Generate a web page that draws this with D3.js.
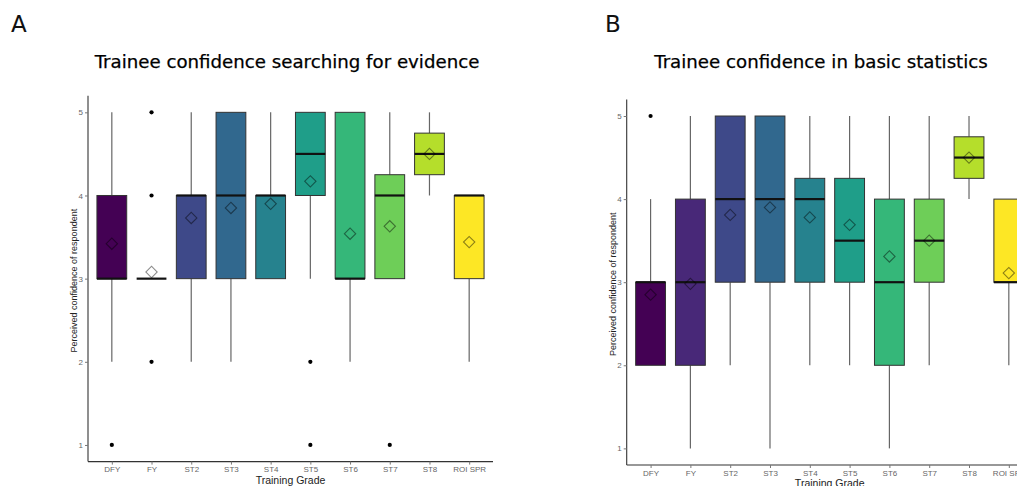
<!DOCTYPE html>
<html>
<head>
<meta charset="utf-8">
<script src="https://cdn.jsdelivr.net/npm/d3@7"></script>
<style>
  body { margin: 0; background: #fff; }
  svg { display: block; }
</style>
</head>
<body>
<div id="chart"></div>
<script>
const grades = ["DFY", "FY", "ST2", "ST3", "ST4", "ST5", "ST6", "ST7", "ST8", "ROI SPR"]
const yTicks = [1, 2, 3, 4, 5]

// A: searching for evidence
const searchQ1 = [3, 3, 3, 3, 3, 4, 3, 3, 4.25, 3]
const searchMedian = [3, 3, 4, 4, 4, 4.5, 3, 4, 4.5, 4]
const searchQ3 = [4, 3, 4, 5, 4, 5, 5, 4.25, 4.75, 4]
const searchLow = [2, 3, 2, 2, 3, 3, 2, 3, 4, 2]
const searchHigh = [5, 3, 5, 5, 5, 5, 5, 5, 5, 4]
const searchMean = [3.42, 3.08, 3.73, 3.85, 3.90, 4.17, 3.54, 3.63, 4.5, 3.44]
const searchOutliers = [[1], [5, 4, 2], [], [], [], [2, 1], [], [1], [], []]

// B: basic statistics
const statsQ1 = [2, 2, 3, 3, 3, 3, 2, 3, 4.25, 3]
const statsMedian = [3, 3, 4, 4, 4, 3.5, 3, 3.5, 4.5, 3]
const statsQ3 = [3, 4, 5, 5, 4.25, 4.25, 4, 4, 4.75, 4]
const statsLow = [2, 1, 2, 1, 2, 2, 1, 2, 4, 2]
const statsHigh = [4, 5, 5, 5, 5, 5, 5, 5, 5, 4]
const statsMean = [2.85, 2.98, 3.81, 3.90, 3.78, 3.69, 3.31, 3.50, 4.5, 3.11]
const statsOutliers = [[5], [], [], [], [], [], [], [], [], []]

const W = 1017, H = 486
const svg = d3.select('#chart').append('svg')
    .attr('width', W)
    .attr('height', H)

const color = d3.scaleOrdinal()
    .domain(grades)
    .range(grades.map((g, i) => d3.interpolateViridis(i / (grades.length - 1))))

function drawPanel(p) {
    const x = d3.scalePoint().domain(grades).range([p.left, p.right]).padding(0.6)
    const y = d3.scaleLinear().domain([0.8, 5.2]).range([p.bottom, p.top])
    const boxW = x.step() * 0.75

    const rows = grades.map((g, i) => ({
        g, q1: p.q1[i], med: p.med[i], q3: p.q3[i], lo: p.lo[i], hi: p.hi[i],
        mean: p.mean[i], out: p.out[i]
    }))

    const g = svg.append('g')

    // panel letter + title
    svg.append('text')
        .attr('x', p.letterX).attr('y', 32)
        .style('font-family', 'DejaVu Sans')
        .style('font-size', '23px')
        .style('fill', '#111')
        .text(p.letter)
    svg.append('text')
        .attr('x', p.titleX).attr('y', 68)
        .attr('text-anchor', 'middle')
        .style('font-family', 'DejaVu Sans')
        .style('font-size', '18.2px')
        .style('fill', '#000')
        .style('stroke', '#000').style('stroke-width', 0.25)
        .text(p.title)

    // whiskers
    g.selectAll('.whUp').data(rows).enter().append('line')
        .attr('x1', d => x(d.g)).attr('x2', d => x(d.g))
        .attr('y1', d => y(d.q3)).attr('y2', d => y(d.hi))
        .attr('stroke', '#666').attr('stroke-width', 1.2)
    g.selectAll('.whLo').data(rows).enter().append('line')
        .attr('x1', d => x(d.g)).attr('x2', d => x(d.g))
        .attr('y1', d => y(d.q1)).attr('y2', d => y(d.lo))
        .attr('stroke', '#666').attr('stroke-width', 1.2)

    // boxes
    g.selectAll('rect').data(rows).enter().append('rect')
        .attr('x', d => x(d.g) - boxW / 2)
        .attr('y', d => y(d.q3))
        .attr('width', boxW)
        .attr('height', d => y(d.q1) - y(d.q3))
        .attr('fill', d => color(d.g))
        .attr('stroke', '#333')
        .attr('stroke-width', 1)

    // medians
    g.selectAll('.med').data(rows).enter().append('line')
        .attr('x1', d => x(d.g) - boxW / 2).attr('x2', d => x(d.g) + boxW / 2)
        .attr('y1', d => y(d.med)).attr('y2', d => y(d.med))
        .attr('stroke', '#111').attr('stroke-width', 2.2)

    // outliers
    const outs = rows.flatMap(d => d.out.map(v => ({ g: d.g, v })))
    g.selectAll('.out').data(outs).enter().append('circle')
        .attr('cx', d => x(d.g)).attr('cy', d => y(d.v))
        .attr('r', 2.1).attr('fill', '#000')

    // means, open diamonds
    g.selectAll('.mean').data(rows).enter().append('path')
        .attr('d', d3.symbol(d3.symbolSquare, 64))
        .attr('transform', d => `translate(${x(d.g)},${y(d.mean)}) rotate(45)`)
        .attr('fill', 'none')
        .attr('stroke', 'rgba(0,0,0,0.45)')
        .attr('stroke-width', 1.1)

    // axes
    const xAxis = g.append('g')
        .attr('transform', `translate(0,${p.bottom})`)
        .call(d3.axisBottom(x).tickSize(3).tickPadding(2))
    const yAxis = g.append('g')
        .attr('transform', `translate(${p.left},0)`)
        .call(d3.axisLeft(y).tickValues(yTicks).tickFormat(d3.format('d')).tickSize(3).tickPadding(2))
    xAxis.select('.domain').attr('d', `M${p.left},0H${p.right}`)
    yAxis.select('.domain').attr('d', `M0,${p.bottom}V${p.top}`)
    for (const ax of [xAxis, yAxis]) {
        ax.select('.domain').attr('stroke', '#333').attr('stroke-width', 1.1)
        ax.selectAll('.tick line').attr('stroke', '#777')
        ax.selectAll('.tick text')
            .style('font-family', 'Liberation Sans')
            .style('font-size', '8px')
            .style('fill', '#666')
    }

    svg.append('text')
        .attr('x', (p.left + p.right) / 2).attr('y', p.bottom + 22)
        .attr('text-anchor', 'middle')
        .style('font-family', 'Liberation Sans')
        .style('font-size', '10.5px')
        .style('fill', '#222')
        .text('Training Grade')
    svg.append('text')
        .attr('transform', `translate(${p.left - 11},${(p.top + p.bottom) / 2 + 2}) rotate(-90)`)
        .attr('text-anchor', 'middle')
        .style('font-family', 'Liberation Sans')
        .style('font-size', '9px')
        .style('fill', '#222')
        .text('Perceived confidence of respondent')
}

drawPanel({
    letter: 'A', letterX: 11, title: 'Trainee confidence searching for evidence', titleX: 287,
    left: 88, right: 493, top: 95.7, bottom: 461.6,
    q1: searchQ1, med: searchMedian, q3: searchQ3, lo: searchLow, hi: searchHigh,
    mean: searchMean, out: searchOutliers
})
drawPanel({
    letter: 'B', letterX: 605, title: 'Trainee confidence in basic statistics', titleX: 821,
    left: 626.7, right: 1032.7, top: 99.4, bottom: 465,
    q1: statsQ1, med: statsMedian, q3: statsQ3, lo: statsLow, hi: statsHigh,
    mean: statsMean, out: statsOutliers
})
</script>
</body>
</html>
